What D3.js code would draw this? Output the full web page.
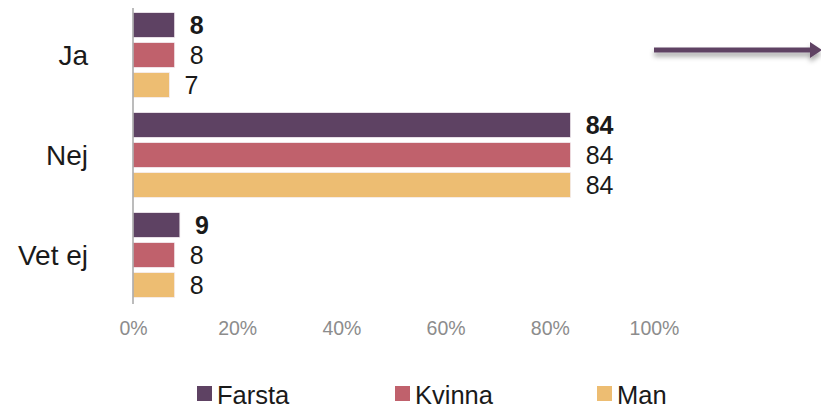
<!DOCTYPE html>
<html>
<head>
<meta charset="utf-8">
<script src="https://cdn.jsdelivr.net/npm/d3@7"></script>
<style>
  html, body { margin: 0; padding: 0; background: #fff; }
  svg { display: block; font-family: "Liberation Sans", Arial, sans-serif; }
</style>
</head>
<body>
<svg id="chart" width="821" height="409"></svg>
<script>
// Answer categories and the three groups compared
const categories = ["Ja", "Nej", "Vet ej"];
const seriesNames = ["Farsta", "Kvinna", "Man"];
const farsta = [8, 84, 9];
const kvinna = [8, 84, 8];
const man = [7, 84, 8];
const tickValues = [0, 20, 40, 60, 80, 100];
const tickLabels = ["0%", "20%", "40%", "60%", "80%", "100%"];

const colors = { Farsta: "#5E4263", Kvinna: "#C0616C", Man: "#EDBD72" };
const seriesValues = { Farsta: farsta, Kvinna: kvinna, Man: man };

const svg = d3.select("#chart");

const x = d3.scaleLinear().domain([0, 100]).range([133, 654]);
const yCat = d3.scaleBand().domain(categories).range([5, 305]);
const ySer = d3.scaleBand().domain(seriesNames)
  .range([0, yCat.bandwidth()]).paddingInner(1 / 6).paddingOuter(0.25);

// Bars and value labels
categories.forEach((cat, i) => {
  const g = svg.append("g").attr("transform", `translate(0,${yCat(cat)})`);
  seriesNames.forEach(s => {
    const v = seriesValues[s][i];
    g.append("rect")
      .attr("x", x(0))
      .attr("y", ySer(s))
      .attr("width", x(v) - x(0))
      .attr("height", ySer.bandwidth())
      .attr("fill", colors[s])
      .attr("stroke", "#f4eef2")
      .attr("stroke-width", 0.8);
    g.append("text")
      .attr("x", x(v) + 15)
      .attr("y", ySer(s) + ySer.bandwidth() / 2)
      .attr("dy", "0.36em")
      .attr("font-size", 25)
      .attr("font-weight", s === "Farsta" ? "bold" : "normal")
      .attr("fill", "#1a1a1a")
      .text(v);
  });
  // Category label
  svg.append("text")
    .attr("x", 88)
    .attr("y", yCat(cat) + yCat.bandwidth() / 2)
    .attr("dy", "0.36em")
    .attr("text-anchor", "end")
    .attr("font-size", 28)
    .attr("fill", "#1a1a1a")
    .text(cat);
});

// Vertical category axis line
svg.append("line")
  .attr("x1", x(0)).attr("x2", x(0))
  .attr("y1", 8).attr("y2", 304)
  .attr("stroke", "#a6a6a6").attr("stroke-width", 1.5);

// Percentage axis labels
const xAxis = d3.axisBottom(x)
  .tickValues(tickValues)
  .tickFormat((d, i) => tickLabels[i])
  .tickSize(0);
const ax = svg.append("g").attr("transform", "translate(0,318)").call(xAxis);
ax.select(".domain").remove();
ax.selectAll("text")
  .attr("font-size", 19.5)
  .attr("font-family", "'Liberation Sans', Arial, sans-serif")
  .attr("fill", "#8c8c8c");

// Legend
const legendX = [197, 395, 597];
seriesNames.forEach((s, i) => {
  svg.append("rect")
    .attr("x", legendX[i]).attr("y", 386)
    .attr("width", 15).attr("height", 15)
    .attr("fill", colors[s]);
  svg.append("text")
    .attr("x", legendX[i] + 20).attr("y", 403.5)
    .attr("font-size", 25.5)
    .attr("fill", "#1a1a1a")
    .text(s);
});

// Arrow with soft shadow
const defs = svg.append("defs");
const f = defs.append("filter").attr("id", "shadow")
  .attr("x", "-10%").attr("y", "-100%").attr("width", "120%").attr("height", "400%");
f.append("feDropShadow").attr("dx", 0).attr("dy", 4).attr("stdDeviation", 2.5)
  .attr("flood-color", "#000").attr("flood-opacity", 0.35);
const arrow = svg.append("g").attr("filter", "url(#shadow)");
arrow.append("line")
  .attr("x1", 654).attr("x2", 812)
  .attr("y1", 50).attr("y2", 50)
  .attr("stroke", "#5E4263").attr("stroke-width", 5);
arrow.append("path")
  .attr("d", "M810,42 L822,50 L810,58 Z")
  .attr("fill", "#5E4263");
</script>
</body>
</html>
